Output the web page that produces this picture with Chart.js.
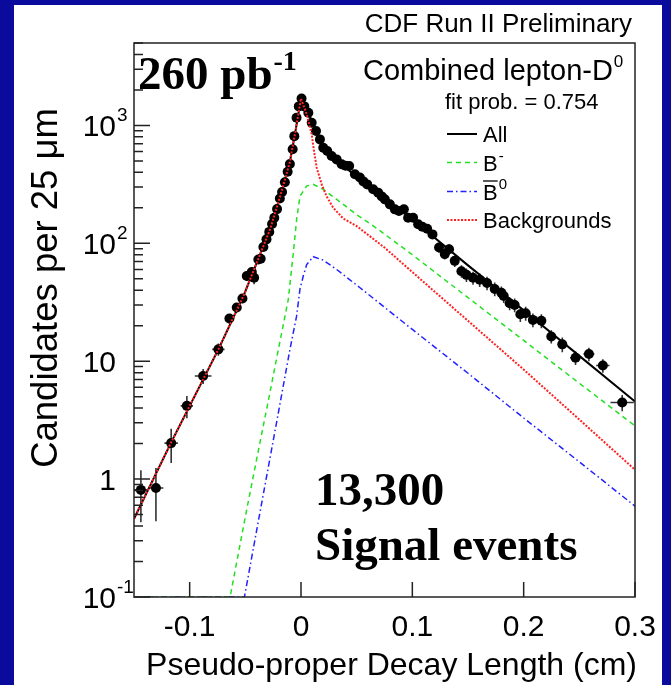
<!DOCTYPE html>
<html>
<head>
<meta charset="utf-8">
<title>Combined lepton-D0 pseudo-proper decay length</title>
<script src="https://cdn.jsdelivr.net/npm/chart.js@4.4.1/dist/chart.umd.min.js"></script>
<style>
  html, body { margin: 0; padding: 0; background: #0a0a9c; }
  canvas { display: block; }
</style>
</head>
<body>
<canvas id="decaychart" width="671" height="685"></canvas>
<script>
// measured points (x in cm, candidates per 25 um)
const dataX = [-0.1438, -0.1303, -0.1166, -0.1025, -0.0879, -0.0742, -0.0643, -0.0577, -0.0526, -0.0487,
  -0.0442, -0.0421, -0.0383, -0.0362, -0.0338, -0.0310, -0.0285, -0.0260, -0.0240, -0.0215,
  -0.0190, -0.0170, -0.0145, -0.0120, -0.0100, -0.0075, -0.0060, -0.0040, -0.0020, 0.0005,
  0.0030, 0.0066, 0.0096, 0.0135, 0.0170, 0.0200, 0.0236, 0.0275, 0.0320, 0.0365,
  0.0400, 0.0433, 0.0484, 0.0529, 0.0560, 0.0595, 0.0648, 0.0693, 0.0725, 0.0753,
  0.0798, 0.0843, 0.0880, 0.0924, 0.0962, 0.1007, 0.1052, 0.1090, 0.1133, 0.1181,
  0.1240, 0.1291, 0.1330, 0.1381, 0.1441, 0.1486, 0.1545, 0.1605, 0.1671, 0.1740,
  0.1800, 0.1821, 0.1874, 0.1919, 0.1970, 0.2018, 0.2083, 0.2159, 0.2248, 0.2347,
  0.2466, 0.2586, 0.2711, 0.2885];
const dataY = [0.81, 0.84, 2.02, 4.18, 7.5, 12.6, 23, 28.5, 34, 52.8,
  57, 51, 73, 74, 93, 108, 125, 146, 165, 195,
  240, 272, 330, 405, 470, 627, 811, 1160, 1450, 1690,
  1450, 1281, 1054, 895, 761, 647, 606, 550, 515, 468,
  455, 452, 385, 361, 335, 316, 287, 269, 250, 236,
  214, 194, 188, 194, 165, 165, 145, 138, 133, 119,
  92, 81, 89, 71, 58, 54, 51, 49, 46, 41,
  38, 35.7, 31, 30, 25, 25.5, 22.4, 22, 16.2, 13.9,
  10.7, 11.5, 9.2, 4.47];
const dataYErr = [0.38, 0.4, 0.65, 0.9, 1.1, 1.5, 2.2, 2.5, 3, 5,
  6, 6, 6, 6, 7, 8, 9, 10, 11, 12,
  14, 15, 17, 19, 21, 24, 27, 33, 37, 40,
  37, 35, 32, 30, 27, 25, 24, 23, 22, 21,
  21, 21, 19, 18, 18, 17, 16, 16, 15, 15,
  14, 13, 13, 13, 12, 12, 11, 11, 11, 10,
  9, 8, 9, 8, 7, 7, 6.5, 6.5, 6, 5.5,
  5, 4.5, 4, 4, 3.5, 3.5, 3, 3, 2.1, 2,
  1.4, 1.5, 1.2, 0.7];
const dataXErr = [0.0067, 0.0067, 0.006, 0.0055, 0.0075, 0.0055, 0.004, 0.003, 0.003, 0.002,
  0.002, 0.002, 0.0015, 0.0015, 0.0013, 0.0013, 0.0013, 0.0013, 0.0013, 0.0013,
  0.0013, 0.0013, 0.0013, 0.0013, 0.0013, 0.0013, 0.0013, 0.0013, 0.0013, 0.0013,
  0.0013, 0.0013, 0.0013, 0.0013, 0.0013, 0.0013, 0.0013, 0.0013, 0.0013, 0.0013,
  0.0013, 0.0013, 0.0013, 0.0013, 0.0013, 0.0013, 0.0013, 0.0013, 0.0013, 0.0013,
  0.0013, 0.0013, 0.0013, 0.0013, 0.0013, 0.0013, 0.0013, 0.0013, 0.0013, 0.0013,
  0.0025, 0.0025, 0.0025, 0.0025, 0.0025, 0.0025, 0.0025, 0.0025, 0.0025, 0.0025,
  0.0025, 0.0025, 0.0025, 0.0025, 0.0025, 0.0025, 0.003, 0.003, 0.003, 0.004,
  0.005, 0.005, 0.006, 0.0105];

// fit components
const allX = [-0.15, -0.1166, -0.0742, -0.0517, -0.0278, -0.02, -0.015, -0.01, -0.005, 0,
  0.005, 0.01, 0.015, 0.02, 0.03, 0.04, 0.05, 0.075, 0.1, 0.15, 0.2, 0.25, 0.3];
const allY = [0.46, 2.05, 12.6, 35.7, 131, 229, 331, 490, 890, 1690,
  1330, 1090, 850, 680, 530, 440, 365, 240, 160, 65, 27, 11.1, 4.55];

const bgX = [-0.15, -0.1166, -0.0742, -0.0517, -0.0278, -0.02, -0.015, -0.01, -0.005, 0,
  0.005, 0.0096, 0.0117, 0.0141, 0.0186, 0.023, 0.029, 0.038, 0.05, 0.075, 0.1, 0.15, 0.2, 0.25, 0.3];
const bgY = [0.46, 2.05, 12.6, 35.7, 131, 229, 331, 490, 890, 1690,
  1250, 840, 605, 438, 316, 250, 200, 162, 140, 92, 57, 22, 8.5, 3.2, 1.2];

const bMinusX = [-0.15, -0.0637, -0.05, -0.04, -0.03, -0.02, -0.0114, -0.0069, -0.0039, -0.0009,
  0.005, 0.011, 0.02, 0.032, 0.05, 0.068, 0.1, 0.15, 0.2, 0.25, 0.3];
const bMinusY = [0.1, 0.1, 0.48, 1.45, 4.3, 13, 33.5, 83, 160, 251,
  306, 316, 287, 236, 175, 134, 80, 34.6, 15, 6.5, 2.83];

const bZeroX = [-0.15, -0.0508, -0.04, -0.03, -0.02, -0.01, -0.004, -0.0009, 0.0021, 0.0051,
  0.011, 0.02, 0.032, 0.053, 0.1, 0.15, 0.2, 0.25, 0.3];
const bZeroY = [0.1, 0.1, 0.36, 1.17, 3.8, 12.5, 24, 41, 53, 66,
  77, 72, 60, 42, 18.6, 7.9, 3.3, 1.4, 0.59];

const xTicks = [-0.1, 0, 0.1, 0.2, 0.3];
const xTickLabels = ['-0.1', '0', '0.1', '0.2', '0.3'];
const yTicks = [0.1, 1, 10, 100, 1000];
const yTickBase = ['10', '1', '10', '10', '10'];
const yTickExp = ['-1', '', '', '2', '3'];

const SANS = '"Liberation Sans", Arial, sans-serif';
const SERIF = '"Liberation Serif", "Times New Roman", serif';

function pts(xs, ys) {
  return xs.map((x, i) => ({ x: x, y: ys[i] }));
}

// text with a raised exponent, returns the end x
function supText(c, base, sup, x, y, size, supSize, rise, font, weight, align) {
  c.font = weight + ' ' + size + 'px ' + font;
  const wb = c.measureText(base).width;
  c.font = weight + ' ' + supSize + 'px ' + font;
  const ws = sup ? c.measureText(sup).width + 1 : 0;
  let x0 = x;
  if (align === 'right') x0 = x - wb;
  c.textAlign = 'left';
  c.textBaseline = 'alphabetic';
  c.font = weight + ' ' + size + 'px ' + font;
  c.fillText(base, x0, y);
  if (sup) {
    c.font = weight + ' ' + supSize + 'px ' + font;
    c.fillText(sup, x0 + wb + 1, y - rise);
  }
  return x0 + wb + ws;
}

const decor = {
  id: 'decor',
  beforeDraw(chart) {
    const c = chart.ctx;
    c.save();
    c.fillStyle = '#0a0a9c';
    c.fillRect(0, 0, chart.width, chart.height);
    c.fillStyle = '#ffffff';
    c.fillRect(14, 5, 648, 680);
    c.restore();
  },
  beforeDatasetsDraw(chart) {
    // error bars
    const c = chart.ctx, xs = chart.scales.x, ys = chart.scales.y, a = chart.chartArea;
    c.save();
    c.beginPath();
    c.rect(a.left, a.top, a.right - a.left, a.bottom - a.top);
    c.clip();
    c.strokeStyle = '#333';
    c.lineWidth = 1.6;
    c.beginPath();
    for (let i = 0; i < dataX.length; i++) {
      const px = xs.getPixelForValue(dataX[i]);
      const py = ys.getPixelForValue(dataY[i]);
      const lo = Math.max(dataY[i] - dataYErr[i], 0.05);
      c.moveTo(px, ys.getPixelForValue(lo));
      c.lineTo(px, ys.getPixelForValue(dataY[i] + dataYErr[i]));
      c.moveTo(xs.getPixelForValue(dataX[i] - dataXErr[i]), py);
      c.lineTo(xs.getPixelForValue(dataX[i] + dataXErr[i]), py);
    }
    c.stroke();
    c.restore();
  },
  afterDraw(chart) {
    const c = chart.ctx, xs = chart.scales.x, ys = chart.scales.y, a = chart.chartArea;
    c.save();
    // frame
    c.strokeStyle = '#222';
    c.lineWidth = 1.5;
    c.strokeRect(a.left, a.top, a.right - a.left, a.bottom - a.top);

    // y ticks, inside the frame
    c.beginPath();
    for (let d = -1; d <= 3; d++) {
      for (let m = 1; m <= 9; m++) {
        const v = m * Math.pow(10, d);
        if (v < ys.min || v > ys.max) continue;
        const py = ys.getPixelForValue(v);
        c.moveTo(a.left, py);
        c.lineTo(a.left + (m === 1 ? 16 : 9), py);
      }
    }
    // x ticks
    xTicks.forEach(v => {
      const px = xs.getPixelForValue(v);
      c.moveTo(px, a.bottom);
      c.lineTo(px, a.bottom - 15);
    });
    c.stroke();

    c.fillStyle = '#000';
    // x tick labels
    c.font = '30px ' + SANS;
    c.textAlign = 'center';
    c.textBaseline = 'alphabetic';
    xTicks.forEach((v, i) => {
      c.fillText(xTickLabels[i], xs.getPixelForValue(v), a.bottom + 39);
    });
    // y tick labels
    yTicks.forEach((v, i) => {
      const py = ys.getPixelForValue(v);
      supText(c, yTickBase[i], yTickExp[i], 116, py + 11, 30, 19, 15, SANS, 'normal', 'right');
    });

    // axis titles
    c.font = '32px ' + SANS;
    c.textAlign = 'right';
    c.fillText('Pseudo-proper Decay Length (cm)', 637, 675);
    c.save();
    c.translate(57, 108);
    c.rotate(-Math.PI / 2);
    c.font = '36.5px ' + SANS;
    c.textAlign = 'right';
    c.fillText('Candidates per 25 \u03bcm', 0, 0);
    c.restore();

    // header
    c.font = '26px ' + SANS;
    c.textAlign = 'right';
    c.fillText('CDF Run II Preliminary', 632, 32);

    // luminosity and yield
    supText(c, '260 pb', '-1', 138, 89, 47, 28, 19, SERIF, 'bold', 'left');
    c.font = 'bold 47px ' + SERIF;
    c.textAlign = 'left';
    c.fillText('13,300', 315, 505);
    c.fillText('Signal events', 315, 560);

    // legend block
    supText(c, 'Combined lepton-D', '0', 363, 80, 29, 17, 13, SANS, 'normal', 'left');
    c.font = '22px ' + SANS;
    c.textAlign = 'left';
    c.fillText('fit prob. = 0.754', 445, 109);

    const lx0 = 447, lx1 = 477, tx = 483;
    const rows = [
      { y: 134, color: '#000', dash: [], width: 2 },
      { y: 162.5, color: '#22e022', dash: [5, 4], width: 1.5 },
      { y: 191.5, color: '#2222ff', dash: [6, 3, 1.5, 3], width: 1.5 },
      { y: 220, color: '#ff2020', dash: [2, 1.5], width: 2 }
    ];
    rows.forEach(r => {
      c.beginPath();
      c.setLineDash(r.dash);
      c.strokeStyle = r.color;
      c.lineWidth = r.width;
      c.moveTo(lx0, r.y);
      c.lineTo(lx1, r.y);
      c.stroke();
    });
    c.setLineDash([]);
    c.fillStyle = '#000';
    c.font = '22px ' + SANS;
    c.fillText('All', tx, 142);
    supText(c, 'B', '-', tx, 171, 22, 15, 10, SANS, 'normal', 'left');
    supText(c, 'B', '0', tx, 200, 22, 15, 11, SANS, 'normal', 'left');
    // bar over the B
    c.font = '22px ' + SANS;
    const bw = c.measureText('B').width;
    c.strokeStyle = '#000';
    c.lineWidth = 1.3;
    c.beginPath();
    c.moveTo(tx, 181);
    c.lineTo(tx + bw, 181);
    c.stroke();
    c.fillText('Backgrounds', tx, 228);
    c.restore();
  }
};

const chart = new Chart(document.getElementById('decaychart').getContext('2d'), {
  type: 'scatter',
  data: {
    datasets: [
      {
        label: 'Backgrounds',
        data: pts(bgX, bgY),
        showLine: true,
        borderColor: '#ff2020',
        borderWidth: 2,
        borderDash: [2, 1.5],
        pointRadius: 0,
        order: 0
      },
      {
        label: 'Data',
        data: pts(dataX, dataY),
        showLine: false,
        backgroundColor: '#000',
        borderWidth: 0,
        pointRadius: 5,
        order: 1
      },
      {
        label: 'All',
        data: pts(allX, allY),
        showLine: true,
        borderColor: '#000',
        borderWidth: 2,
        pointRadius: 0,
        order: 2
      },
      {
        label: 'B-',
        data: pts(bMinusX, bMinusY),
        showLine: true,
        borderColor: '#22e022',
        borderWidth: 1.5,
        borderDash: [5, 4],
        pointRadius: 0,
        order: 3
      },
      {
        label: 'B0bar',
        data: pts(bZeroX, bZeroY),
        showLine: true,
        borderColor: '#2222ff',
        borderWidth: 1.5,
        borderDash: [6, 3, 1.5, 3],
        pointRadius: 0,
        order: 4
      }
    ]
  },
  options: {
    responsive: false,
    animation: false,
    devicePixelRatio: 1,
    layout: { padding: { left: 134, right: 36, top: 43, bottom: 88 } },
    plugins: { legend: { display: false }, tooltip: { enabled: false } },
    scales: {
      x: { type: 'linear', min: -0.15, max: 0.3, display: false },
      y: { type: 'logarithmic', min: 0.1, max: 5000, display: false }
    }
  },
  plugins: [decor]
});
</script>
</body>
</html>
